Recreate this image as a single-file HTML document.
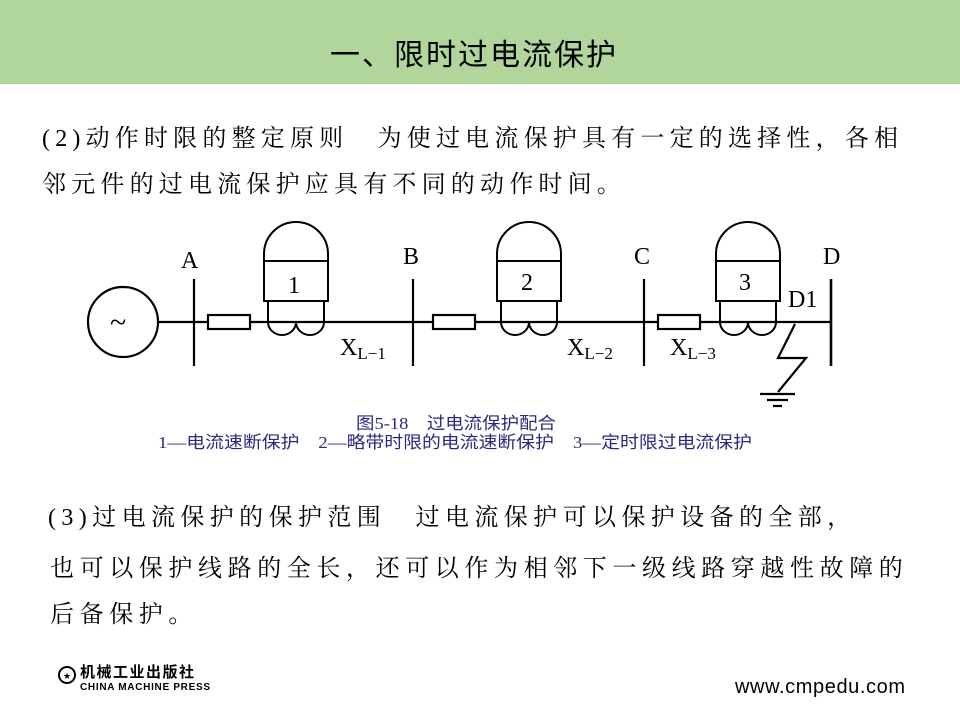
<!DOCTYPE html>
<html><head><meta charset="utf-8"><style>
body{margin:0;width:960px;height:718px;background:#fff;position:relative;overflow:hidden;font-family:"Liberation Serif","Noto Serif CJK SC","Noto Sans CJK SC",serif;}
.ban{position:absolute;left:0;top:0;width:960px;height:84px;background:#b0d69c;}
.t{position:absolute;white-space:nowrap;}
.body{font-size:24px;letter-spacing:5.2px;color:#000;}
</style></head><body>
<div class="ban"></div>
<div class="t" style="left:330px;top:30px;font-size:30px;font-family:'Liberation Sans','Noto Sans CJK SC',sans-serif;letter-spacing:2px;">一、限时过电流保护</div>
<div class="t body" style="left:42px;top:118px;">(2)动作时限的整定原则　为使过电流保护具有一定的选择性，各相</div>
<div class="t body" style="left:42px;top:164px;">邻元件的过电流保护应具有不同的动作时间。</div>
<svg width="960" height="718" style="position:absolute;left:0;top:0" font-family="Liberation Serif,serif">
<g stroke="#000" stroke-width="2.2" fill="none">
<circle cx="123" cy="322" r="35"/>
<line x1="158" y1="322" x2="831" y2="322"/>
<line x1="194" y1="279" x2="194" y2="366"/>
<line x1="413" y1="279" x2="413" y2="366"/>
<line x1="644" y1="279" x2="644" y2="366"/>
<line x1="831" y1="279" x2="831" y2="366" stroke-width="2.6"/>
<rect x="208" y="315" width="42" height="14" fill="#fff"/>
<rect x="433" y="315" width="42" height="14" fill="#fff"/>
<rect x="658" y="315" width="42" height="14" fill="#fff"/>
<path d="M795 324 L778 358 L806 358 L778 392"/>
<line x1="760" y1="394" x2="795" y2="394"/>
<line x1="767" y1="400" x2="788" y2="400"/>
<line x1="773" y1="406" x2="782" y2="406"/>
</g>
<g stroke="#000" stroke-width="2" fill="none" id="r1">
<path d="M264 261 L264 254 A32 32 0 0 1 328 254 L328 261"/>
<rect x="264" y="261" width="64" height="40"/>
<path d="M268 301 L268 322 M324 301 L324 322"/>
<path d="M268 322 A14 13 0 0 0 296 322 A14 13 0 0 0 324 322"/>
</g>
<use href="#r1" transform="translate(233,0)"/>
<use href="#r1" transform="translate(452,0)"/>
<g font-size="24" fill="#000">
<text x="181" y="268">A</text>
<text x="403" y="264">B</text>
<text x="634" y="264">C</text>
<text x="823" y="264">D</text>
<text x="288" y="293">1</text>
<text x="521" y="290">2</text>
<text x="739" y="290">3</text>
<text x="788" y="307">D1</text>
<text x="340" y="355">X<tspan font-size="17" dy="4">L−1</tspan></text>
<text x="567" y="355">X<tspan font-size="17" dy="4">L−2</tspan></text>
<text x="670" y="355">X<tspan font-size="17" dy="4">L−3</tspan></text>
<text x="110" y="332" font-size="30">~</text>
</g>
<g font-size="17" fill="#2a2a80" font-family="Liberation Serif,Noto Sans CJK SC,sans-serif">
<text x="356" y="429" textLength="200" lengthAdjust="spacingAndGlyphs">图5-18　过电流保护配合</text>
<text x="158" y="448" textLength="594" lengthAdjust="spacingAndGlyphs">1—电流速断保护　2—略带时限的电流速断保护　3—定时限过电流保护</text>
</g>
<circle cx="67" cy="675" r="8" stroke="#000" stroke-width="2" fill="none"/>
<text x="63" y="679" font-size="9">★</text>
<text x="80" y="677" font-size="15" font-weight="bold" font-family="Noto Sans CJK SC,sans-serif" letter-spacing="1.5">机械工业出版社</text>
<text x="80" y="690" font-size="10" font-weight="bold" font-family="Liberation Sans,sans-serif" textLength="130">CHINA MACHINE PRESS</text>
<text x="735" y="693" font-size="20" font-family="Liberation Sans,sans-serif" textLength="170">www.cmpedu.com</text>
</svg>
<div class="t body" style="left:48px;top:497px;letter-spacing:5.4px">(3)过电流保护的保护范围　过电流保护可以保护设备的全部，</div>
<div class="t body" style="left:50px;top:548px;letter-spacing:5.6px">也可以保护线路的全长，还可以作为相邻下一级线路穿越性故障的</div>
<div class="t body" style="left:50px;top:594px;letter-spacing:5.6px">后备保护。</div>
</body></html>
